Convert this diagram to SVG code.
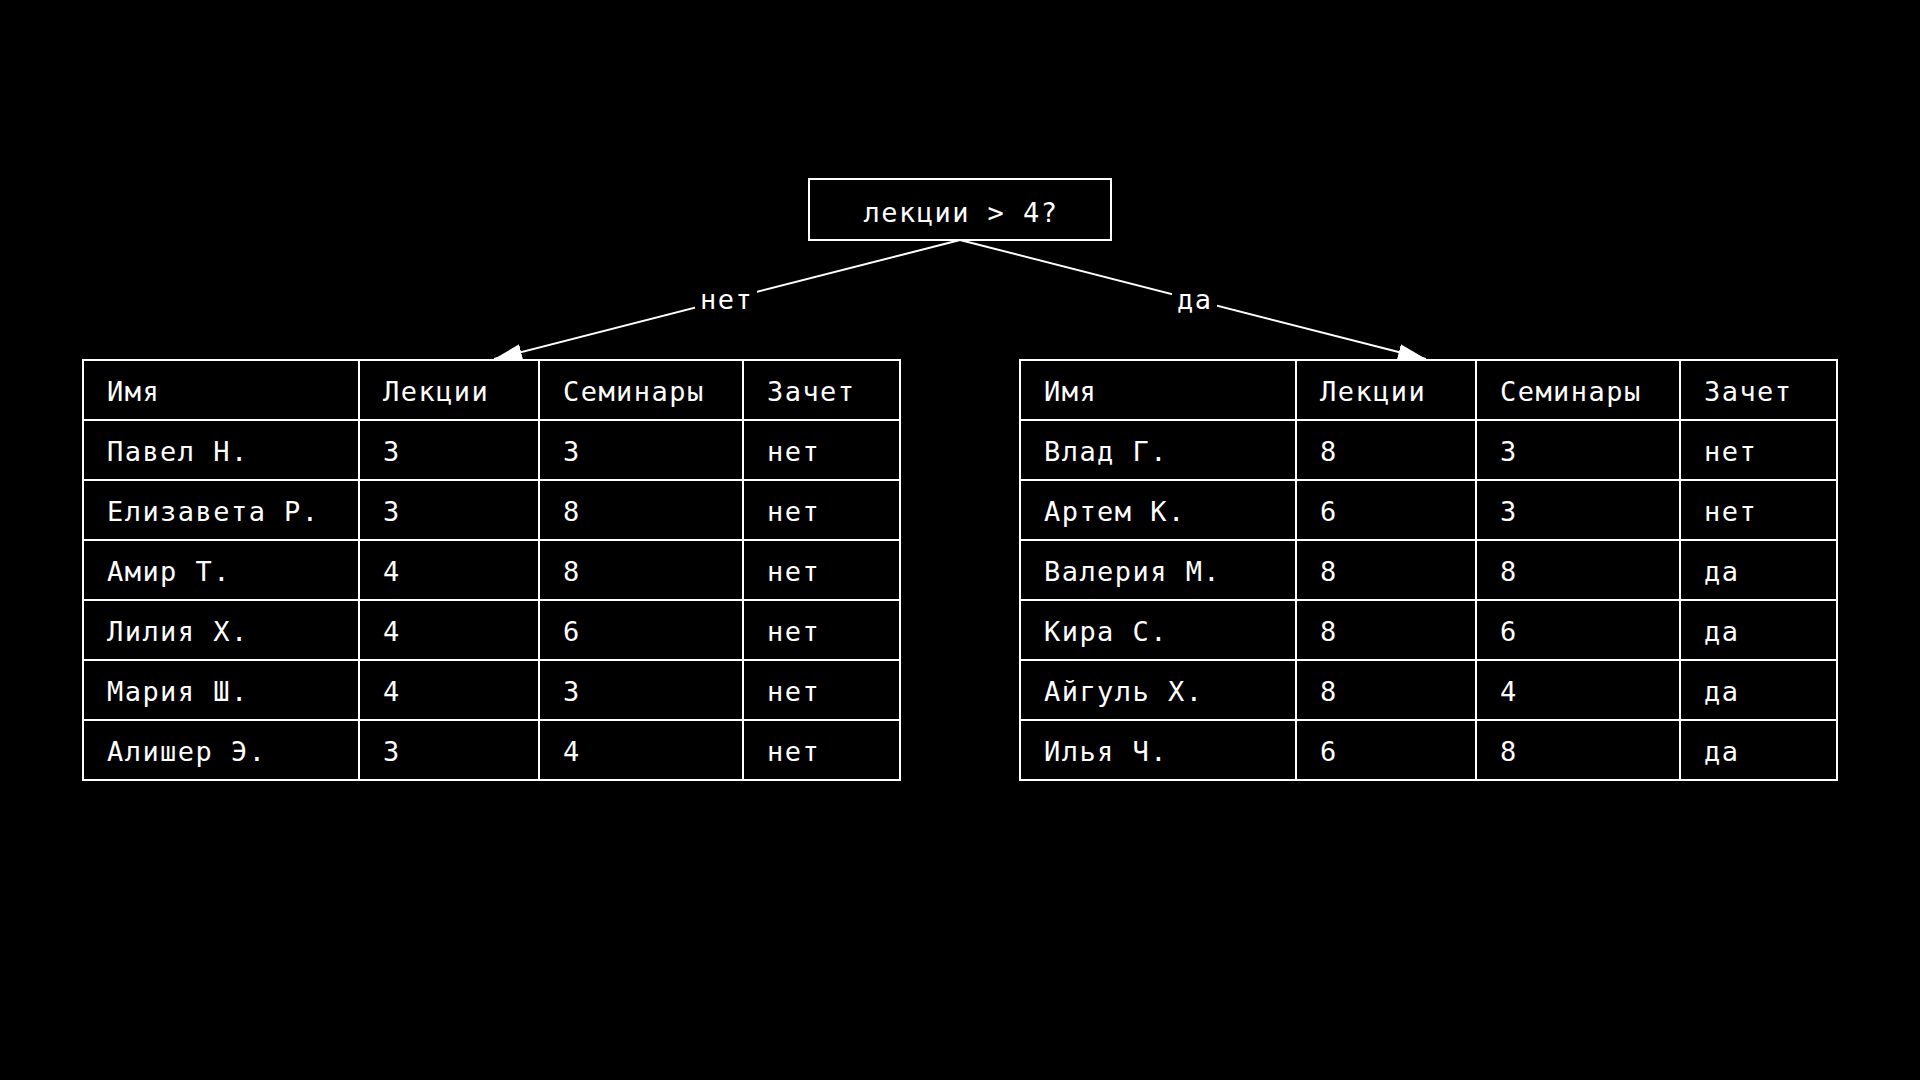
<svg xmlns="http://www.w3.org/2000/svg" width="1920" height="1080" viewBox="0 0 1920 1080">
<style>
.t{font-family:"DejaVu Sans Mono","Liberation Mono",monospace;font-size:27px;fill:#fff;letter-spacing:1.45px}
.b{fill:none;stroke:#fff;stroke-width:2}
.c{stroke:#fff;stroke-width:2;fill:none}
</style>
<defs>
<marker id="ah" viewBox="0 0 28 16" refX="28" refY="8" markerWidth="28" markerHeight="16" markerUnits="userSpaceOnUse" orient="auto">
<path d="M0,0 L28,8 L0,16 z" fill="#fff"/>
</marker>
</defs>
<rect width="1920" height="1080" fill="#000"/>
<g id="connectors">
<line class="c" x1="960" y1="240" x2="494" y2="359" marker-end="url(#ah)"/>
<line class="c" x1="960" y1="240" x2="1426" y2="359" marker-end="url(#ah)"/>
<rect x="695" y="284" width="62" height="32" fill="#000"/>
<text class="t" x="700" y="309">нет</text>
<rect x="1172" y="284" width="45" height="32" fill="#000"/>
<text class="t" x="1177" y="309">да</text>
</g>
<g id="root">
<rect class="b" x="809" y="179" width="302" height="61"/>
<text class="t" x="961" y="222" text-anchor="middle">лекции &gt; 4?</text>
</g>
<g id="left-table">
<rect class="b" x="83" y="360" width="817" height="420"/>
<path class="b" d="M83,420H900M83,480H900M83,540H900M83,600H900M83,660H900M83,720H900M359,360V780M539,360V780M743,360V780"/>
<text class="t" x="107" y="401">Имя</text><text class="t" x="383" y="401">Лекции</text><text class="t" x="563" y="401">Семинары</text><text class="t" x="767" y="401">Зачет</text>
<text class="t" x="107" y="461">Павел Н.</text><text class="t" x="383" y="461">3</text><text class="t" x="563" y="461">3</text><text class="t" x="767" y="461">нет</text>
<text class="t" x="107" y="521">Елизавета Р.</text><text class="t" x="383" y="521">3</text><text class="t" x="563" y="521">8</text><text class="t" x="767" y="521">нет</text>
<text class="t" x="107" y="581">Амир Т.</text><text class="t" x="383" y="581">4</text><text class="t" x="563" y="581">8</text><text class="t" x="767" y="581">нет</text>
<text class="t" x="107" y="641">Лилия Х.</text><text class="t" x="383" y="641">4</text><text class="t" x="563" y="641">6</text><text class="t" x="767" y="641">нет</text>
<text class="t" x="107" y="701">Мария Ш.</text><text class="t" x="383" y="701">4</text><text class="t" x="563" y="701">3</text><text class="t" x="767" y="701">нет</text>
<text class="t" x="107" y="761">Алишер Э.</text><text class="t" x="383" y="761">3</text><text class="t" x="563" y="761">4</text><text class="t" x="767" y="761">нет</text>
</g>
<g id="right-table">
<rect class="b" x="1020" y="360" width="817" height="420"/>
<path class="b" d="M1020,420H1837M1020,480H1837M1020,540H1837M1020,600H1837M1020,660H1837M1020,720H1837M1296,360V780M1476,360V780M1680,360V780"/>
<text class="t" x="1044" y="401">Имя</text><text class="t" x="1320" y="401">Лекции</text><text class="t" x="1500" y="401">Семинары</text><text class="t" x="1704" y="401">Зачет</text>
<text class="t" x="1044" y="461">Влад Г.</text><text class="t" x="1320" y="461">8</text><text class="t" x="1500" y="461">3</text><text class="t" x="1704" y="461">нет</text>
<text class="t" x="1044" y="521">Артем К.</text><text class="t" x="1320" y="521">6</text><text class="t" x="1500" y="521">3</text><text class="t" x="1704" y="521">нет</text>
<text class="t" x="1044" y="581">Валерия М.</text><text class="t" x="1320" y="581">8</text><text class="t" x="1500" y="581">8</text><text class="t" x="1704" y="581">да</text>
<text class="t" x="1044" y="641">Кира С.</text><text class="t" x="1320" y="641">8</text><text class="t" x="1500" y="641">6</text><text class="t" x="1704" y="641">да</text>
<text class="t" x="1044" y="701">Айгуль Х.</text><text class="t" x="1320" y="701">8</text><text class="t" x="1500" y="701">4</text><text class="t" x="1704" y="701">да</text>
<text class="t" x="1044" y="761">Илья Ч.</text><text class="t" x="1320" y="761">6</text><text class="t" x="1500" y="761">8</text><text class="t" x="1704" y="761">да</text>
</g>
</svg>
